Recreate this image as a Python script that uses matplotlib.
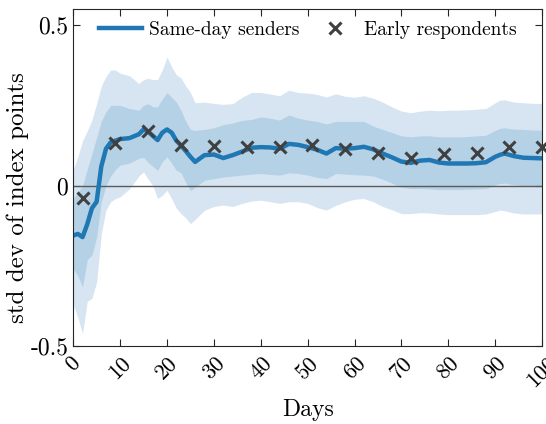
import numpy as np
import matplotlib
matplotlib.use("Agg")
import matplotlib.pyplot as plt

plt.rcParams["font.family"] = "serif"
plt.rcParams["font.serif"] = ["cmr10"]
plt.rcParams["mathtext.fontset"] = "cm"
plt.rcParams["axes.unicode_minus"] = False

# data
days = [0, 1, 2, 3, 4, 5, 6, 7, 8, 9, 10, 12, 14, 15, 16, 17, 18, 19, 20, 21,
        22, 23, 24, 25, 26, 28, 30, 32, 34, 36, 38, 40, 42, 44, 46, 48, 50, 52,
        54, 56, 58, 60, 62, 64, 66, 68, 70, 72, 74, 76, 78, 80, 82, 84, 86, 88,
        90, 91, 92, 94, 96, 98, 100]

same_day = [-0.155, -0.15, -0.16, -0.12, -0.07, -0.05, 0.06, 0.115, 0.135, 0.14,
            0.145, 0.148, 0.16, 0.175, 0.168, 0.155, 0.142, 0.165, 0.175, 0.165,
            0.14, 0.125, 0.108, 0.09, 0.074, 0.095, 0.097, 0.086, 0.095, 0.106,
            0.118, 0.12, 0.119, 0.115, 0.13, 0.127, 0.12, 0.112, 0.1, 0.117,
            0.115, 0.117, 0.121, 0.113, 0.1, 0.088, 0.075, 0.071, 0.078, 0.08,
            0.072, 0.069, 0.069, 0.069, 0.07, 0.073, 0.09, 0.096, 0.1, 0.092,
            0.087, 0.086, 0.085]

inner_hi = [-0.04, -0.02, 0.0, 0.05, 0.1, 0.15, 0.2, 0.23, 0.25, 0.25, 0.25,
            0.24, 0.235, 0.25, 0.255, 0.245, 0.245, 0.27, 0.29, 0.275, 0.26,
            0.234, 0.2, 0.175, 0.172, 0.175, 0.18, 0.19, 0.195, 0.203, 0.206,
            0.214, 0.21, 0.204, 0.22, 0.21, 0.204, 0.2, 0.192, 0.2, 0.2, 0.2,
            0.2, 0.185, 0.175, 0.165, 0.155, 0.152, 0.155, 0.155, 0.152, 0.152,
            0.152, 0.153, 0.155, 0.157, 0.172, 0.178, 0.18, 0.176, 0.175, 0.173,
            0.173]

inner_lo = [-0.26, -0.28, -0.315, -0.23, -0.215, -0.16, -0.05, 0.0, 0.03, 0.05,
            0.064, 0.07, 0.085, 0.088, 0.072, 0.06, 0.048, 0.075, 0.09, 0.07,
            0.048, 0.04, 0.01, -0.015, -0.005, 0.017, 0.022, 0.027, 0.03, 0.033,
            0.036, 0.038, 0.035, 0.033, 0.04, 0.038, 0.033, 0.026, 0.022, 0.038,
            0.036, 0.034, 0.033, 0.03, 0.02, 0.008, -0.005, -0.009, -0.009,
            -0.01, -0.012, -0.012, -0.012, -0.011, -0.01, -0.009, 0.003, 0.007,
            0.008, 0.003, 0.0, 0.0, 0.0]

outer_hi = [0.05, 0.09, 0.14, 0.17, 0.204, 0.255, 0.31, 0.34, 0.36, 0.36, 0.35,
            0.342, 0.318, 0.33, 0.334, 0.33, 0.33, 0.36, 0.4, 0.37, 0.345,
            0.335, 0.31, 0.29, 0.258, 0.26, 0.256, 0.253, 0.255, 0.275, 0.29,
            0.29, 0.285, 0.28, 0.297, 0.29, 0.288, 0.284, 0.276, 0.286, 0.278,
            0.275, 0.28, 0.272, 0.26, 0.245, 0.232, 0.227, 0.232, 0.235, 0.233,
            0.235, 0.235, 0.236, 0.238, 0.24, 0.258, 0.266, 0.267, 0.26, 0.258,
            0.256, 0.256]

outer_lo = [-0.37, -0.41, -0.46, -0.36, -0.35, -0.3, -0.15, -0.075, -0.05,
            -0.04, -0.035, -0.01, 0.03, 0.043, 0.02, 0.0, -0.04, -0.03, -0.014,
            -0.04, -0.07, -0.087, -0.1, -0.118, -0.105, -0.076, -0.065, -0.06,
            -0.065, -0.055, -0.048, -0.045, -0.05, -0.055, -0.05, -0.05, -0.055,
            -0.068, -0.076, -0.061, -0.05, -0.042, -0.04, -0.05, -0.065, -0.075,
            -0.087, -0.087, -0.084, -0.085, -0.088, -0.09, -0.09, -0.09, -0.09,
            -0.088, -0.08, -0.076, -0.078, -0.085, -0.088, -0.088, -0.088]

early_days = [2, 9, 16, 23, 30, 37, 44, 51, 58, 65, 72, 79, 86, 93, 100]
early = [-0.037, 0.134, 0.171, 0.128, 0.125, 0.121, 0.121, 0.128, 0.115,
         0.103, 0.087, 0.1, 0.103, 0.121, 0.121]

fig = plt.figure(figsize=(5.46, 4.24), dpi=100)
ax = fig.add_axes([0.134, 0.183, 0.859, 0.796])

ax.fill_between(days, outer_lo, outer_hi, color="#d6e5f1", lw=0)
ax.fill_between(days, inner_lo, inner_hi, color="#b5d1e5", lw=0)
ax.axhline(0, color="#5a5a5a", lw=1.0)
ax.plot(days, same_day, color="#1f77b4", lw=3.2, label="Same-day senders")
ax.plot(early_days, early, "x", color="#404040", ms=9, mew=2.2,
        label="Early respondents", clip_on=False, zorder=5)

ax.set_xlim(0, 100)
ax.set_ylim(-0.5, 0.55)
ax.set_xticks(np.arange(0, 101, 10))
ax.set_xticklabels([str(v) for v in range(0, 101, 10)], rotation=45,
                   fontsize=16)
ax.set_yticks([-0.5, 0, 0.5])
ax.set_yticklabels(["-0.5", "0", "0.5"], fontsize=17)
ax.tick_params(direction="in", top=True, right=True, length=5, width=0.8,
               color="#262626")
ax.tick_params(axis="x", pad=5)
for s in ax.spines.values():
    s.set_color("#262626")
    s.set_linewidth(0.8)

ax.set_xlabel("Days", fontsize=17, labelpad=6)
ax.set_ylabel("std dev of index points", fontsize=18)
ax.yaxis.set_label_coords(-0.094, 0.44)

ax.legend(loc="upper center", ncol=2, frameon=False, fontsize=14,
          handlelength=2.2, handletextpad=0.4, columnspacing=0.7,
          borderaxespad=0.2, bbox_to_anchor=(0.5, 1.0))

fig.savefig("out.png", dpi=100)
